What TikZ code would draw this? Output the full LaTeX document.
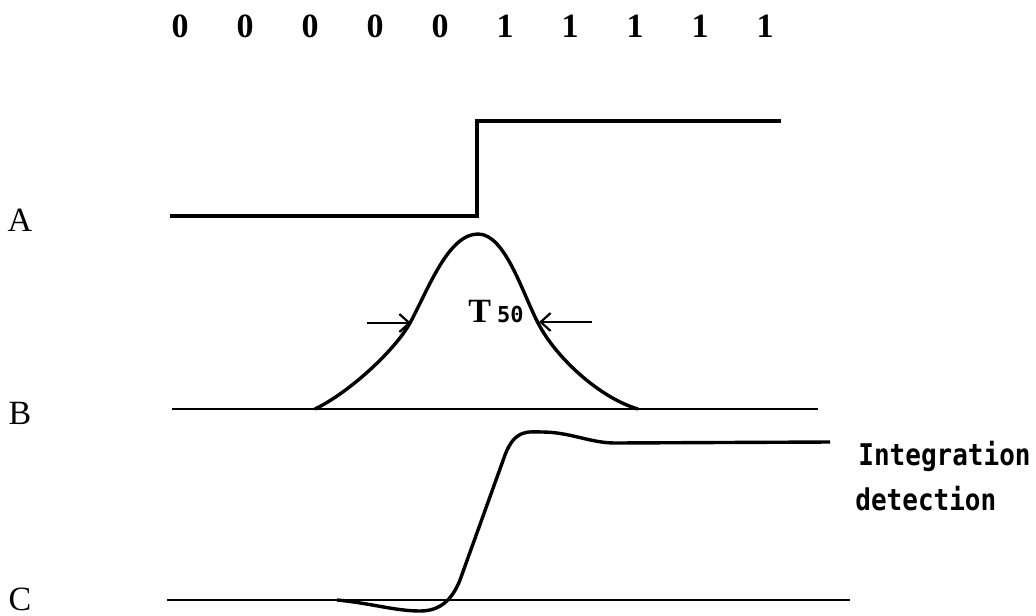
\documentclass[tikz,border=0pt]{standalone}
\usepackage{graphicx}
\usepackage{fontspec}
\setmainfont{Liberation Serif}
\newfontfamily\gothic{DejaVu Sans Mono}
\usetikzlibrary{arrows.meta}
\begin{document}
\begin{tikzpicture}[x=0.5pt,y=-0.5pt,
  lbl/.style={font=\fontsize{17}{20}\selectfont, inner sep=0pt},
  bit/.style={font=\bfseries\fontsize{17}{20}\selectfont, inner sep=0pt},
  note/.style={font=\gothic\bfseries\fontsize{13}{15}\selectfont, inner sep=0pt, anchor=base west},
  sig/.style={line width=1.9pt, line join=miter},
  base/.style={line width=1.1pt},
  wave/.style={line width=1.7pt, line join=round},
  marker/.style={line width=1.1pt, -{Straight Barb[length=5pt,width=9pt,line width=1.1pt]}}]
\useasboundingbox (0,0) rectangle (1036,615);
% bit row
\foreach \i/\v in {0/0,1/0,2/0,3/0,4/0,5/1,6/1,7/1,8/1,9/1}
  \node[bit] (d\i) at ({180+65*\i},26) {\v};
% row labels
\node[lbl] (A) at (20,220) {A};
\node[lbl] (B) at (20,413) {B};
\node[lbl] (C) at (20,599) {C};
% signal A
\coordinate (a0) at (170,216);
\coordinate (a1) at (477,216);
\coordinate (a2) at (477,121);
\coordinate (a3) at (781,121);
\draw[sig] (a0) -- (a1) -- (a2) -- (a3);
% signal B
\coordinate (b0) at (172,409);
\coordinate (b1) at (818,409);
\draw[base] (b0) -- (b1);
\draw[wave] (315,409) .. controls (350,392) and (395,350) .. (410,323)
  .. controls (428,290) and (448,234) .. (478,234)
  .. controls (505,234) and (522,292) .. (538,323)
  .. controls (556,358) and (600,398) .. (638,409);
\coordinate (l0) at (367,323);
\coordinate (l1) at (411,323);
\coordinate (r0) at (592,322);
\coordinate (r1) at (539,322);
\draw[marker] (l0) -- (l1);
\draw[marker] (r0) -- (r1);
\node[inner sep=0pt, anchor=base west] (t50) at (468,322)
  {\fontsize{17}{20}\selectfont\bfseries T\hspace{3pt}{\gothic\bfseries\fontsize{11}{12}\selectfont 50}};
% signal C
\coordinate (c0) at (167,600);
\coordinate (c1) at (850,600);
\draw[base] (c0) -- (c1);
\draw[wave] (337,600) .. controls (370,603) and (395,611) .. (420,611)
  .. controls (440,611) and (452,600) .. (460,580) -- (505,455)
  .. controls (515,428) and (530,432) .. (542,432)
  .. controls (570,432) and (590,443) .. (615,443) -- (830,442);
% note
\node[note] (int) at (858,465) {\scalebox{1}[1.15]{Integration}};
\node[note] (det) at (855,510) {\scalebox{1}[1.15]{detection}};
\end{tikzpicture}
\end{document}
